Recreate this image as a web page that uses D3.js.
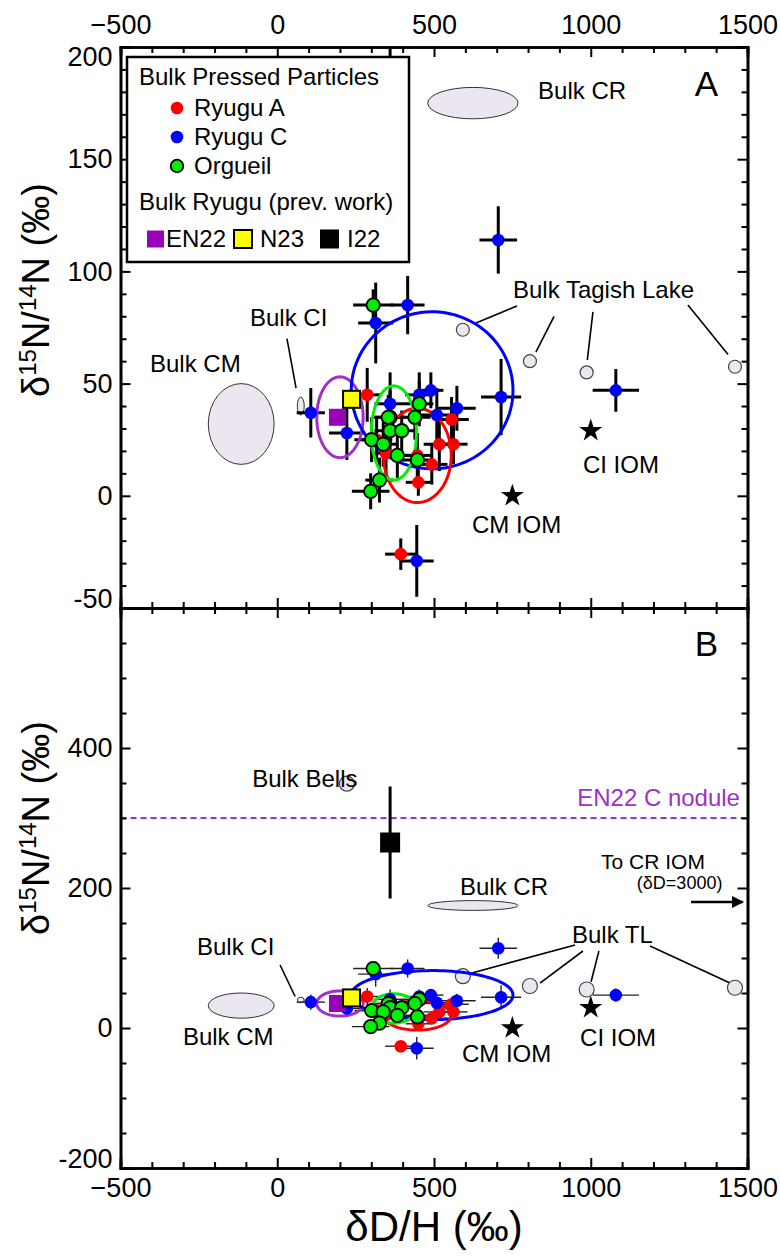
<!DOCTYPE html>
<html>
<head>
<meta charset="utf-8">
<script src="https://cdnjs.cloudflare.com/ajax/libs/d3/7.8.5/d3.min.js"></script>
<style>
  body { margin: 0; background: #fff; }
  svg { display: block; }
  text { font-family: "Liberation Sans", Arial, sans-serif; fill: #000; }
</style>
</head>
<body>
<svg id="chart" width="780" height="1256"></svg>
<script>
// ---------------- data (δD/H ‰, δ15N/14N ‰, ±δD, ±δ15N) ----------------
const ryuguA = [
  [287, 45, 45, 12], [556, 34, 55, 10], [517, 23, 50, 12], [562, 23, 45, 9],
  [493, 14, 50, 9], [447, 18, 45, 10], [450, 6, 40, 6], [317, 25, 50, 10],
  [347, 19, 50, 10], [394, -26, 50, 7]
];
const ryuguC = [
  [416, 85, 54, 13], [314, 77, 56, 18], [107, 37, 45, 11], [222, 28, 57, 12],
  [360, 41, 50, 14], [453, 45, 45, 10], [490, 47, 40, 8], [509, 36, 55, 12],
  [573, 39, 60, 10], [714, 44, 64, 17], [705, 114, 60, 15], [1080, 47, 74, 9.5],
  [445, -29, 54, 16]
];
const orgueil = [
  [306, 85, 64, 7], [360, 35, 50, 12], [453, 41, 45, 10], [439, 35, 50, 10],
  [354, 35, 45, 10], [360, 29, 50, 10], [397, 29, 45, 9], [301, 25, 55, 10],
  [338, 23, 45, 10], [383, 18, 45, 10], [447, 16, 50, 10], [326, 7, 45, 10],
  [298, 2, 60, 8]
];
// previous bulk Ryugu measurements
const prevWork = [
  { id: "EN22", d: 192, n: 35, ed: 0, en: 0 },
  { id: "N23", d: 237, n: 43, ed: 0, en: 0 },
  { id: "I22", d: 360, n: 265, ed: 25, en: 80 }
];
// data-range ellipses for each sample set: centre, semi-axes, tilt (normalised units)
const sampleEllipses = [
  { id: "EN22", d: 200, n: 35, rd: 74, rn: 18, tilt: 0 },
  { id: "C", d: 494, n: 47, rd: 258, rn: 35, tilt: 0.12 },
  { id: "A", d: 447, n: 18, rd: 108, rn: 21, tilt: -0.22 },
  { id: "Org", d: 372, n: 28, rd: 72, rn: 21, tilt: 0 }
];
// literature fields of bulk chondrites
const bulkFields = [
  { id: "CR", d: 624, n: 175, rd: 144, rn: 7 },
  { id: "CM", d: -115, n: 32, rd: 105, rn: 18 },
  { id: "CI", d: 75, n: 40, rd: 11, rn: 4 }
];
const tagishLake = [[592, 74], [806, 60], [987, 55], [1460, 57.5]];
const bells = [[222, 349]];
const iom = [{ id: "CI IOM", d: 1000, n: 29 }, { id: "CM IOM", d: 750, n: 0 }];
const en22Nodule = 300;

const xTicks = [-500, 0, 500, 1000, 1500];
const yTicksA = [-50, 0, 50, 100, 150, 200];
const yTicksB = [-200, 0, 200, 400];

// ---------------- colours ----------------
const colors = {
  A: "#ff0000", C: "#0000ff", Org: "#00ee00", EN22: "#9a00b8",
  N23: "#ffff00", I22: "#000000", field: "#ebe6f0", purple: "#a030c8"
};

// ---------------- layout ----------------
const L = 120.5, R = 747.5, TOP = 47, MID = 608, BOT = 1168;
const svg = d3.select("#chart");

const x = d3.scaleLinear().domain([-500, 1500]).range([L, R]);
const yA = d3.scaleLinear().domain([-50, 200]).range([MID, TOP]);
const yB = d3.scaleLinear().domain([-200, 600]).range([BOT, MID]);

const defs = svg.append("defs");
defs.append("clipPath").attr("id", "clipA").append("rect")
  .attr("x", L).attr("y", TOP).attr("width", R - L).attr("height", MID - TOP);
defs.append("clipPath").attr("id", "clipB").append("rect")
  .attr("x", L).attr("y", MID).attr("width", R - L).attr("height", BOT - MID);
defs.append("marker").attr("id", "arrow").attr("viewBox", "0 0 10 10")
  .attr("refX", 9).attr("refY", 5).attr("markerWidth", 5).attr("markerHeight", 5)
  .attr("orient", "auto").append("path").attr("d", "M0,0L10,5L0,10z").attr("fill", "#000");

// ellipse outline traced in data space so it follows each panel's scale
function ellipsePath(e, y) {
  const pts = d3.range(0, 2 * Math.PI + 0.001, Math.PI / 60).map(t => {
    const u = Math.cos(t), v = Math.sin(t);
    const c = Math.cos(e.tilt), s = Math.sin(e.tilt);
    return [x(e.d + e.rd * (u * c - v * s)), y(e.n + e.rn * (u * s + v * c))];
  });
  return d3.line()(pts) + "Z";
}

function drawPanel(y, clipId, opt) {
  const g = svg.append("g").attr("clip-path", `url(#${clipId})`);
  const barW = opt.thick ? 3 : 1.4;
  const barC = opt.thick ? "#000" : "#222";

  // literature fields
  g.selectAll(null).data(bulkFields).enter().append("ellipse")
    .attr("cx", d => x(d.d)).attr("cy", d => y(d.n))
    .attr("rx", d => x(d.d + d.rd) - x(d.d)).attr("ry", d => y(d.n) - y(d.n + d.rn))
    .attr("fill", colors.field).attr("stroke", "#333").attr("stroke-width", 1);

  // EN22 C nodule level
  g.append("line").attr("x1", L).attr("x2", R)
    .attr("y1", y(en22Nodule)).attr("y2", y(en22Nodule))
    .attr("stroke", colors.purple).attr("stroke-width", 2).attr("stroke-dasharray", "6,4");

  // annotation leader lines
  g.selectAll(null).data(opt.leaders).enter().append("line")
    .attr("x1", d => x(d[0])).attr("y1", d => y(d[1]))
    .attr("x2", d => x(d[2])).attr("y2", d => y(d[3]))
    .attr("stroke", "#000").attr("stroke-width", 1.6);

  // Tagish Lake and Bells bulk values
  g.selectAll(null).data(tagishLake.concat(bells)).enter().append("circle")
    .attr("cx", d => x(d[0])).attr("cy", d => y(d[1])).attr("r", opt.thick ? 6.5 : 7.5)
    .attr("fill", colors.field).attr("stroke", "#444").attr("stroke-width", 1.2);

  // error bars
  const allPts = ryuguA.concat(ryuguC, orgueil);
  const bars = g.append("g").attr("stroke", barC).attr("stroke-width", barW);
  allPts.forEach(p => {
    bars.append("line").attr("x1", x(p[0] - p[2])).attr("x2", x(p[0] + p[2]))
      .attr("y1", y(p[1])).attr("y2", y(p[1]));
    bars.append("line").attr("x1", x(p[0])).attr("x2", x(p[0]))
      .attr("y1", y(p[1] - p[3])).attr("y2", y(p[1] + p[3]));
  });
  prevWork.filter(p => p.en > 0).forEach(p => {
    bars.append("line").attr("x1", x(p.d)).attr("x2", x(p.d))
      .attr("y1", y(p.n - p.en)).attr("y2", y(p.n + p.en)).attr("stroke-width", 3).attr("stroke", "#000");
    bars.append("line").attr("x1", x(p.d - p.ed)).attr("x2", x(p.d + p.ed))
      .attr("y1", y(p.n)).attr("y2", y(p.n)).attr("stroke-width", 3).attr("stroke", "#000");
  });

  // sample ellipses
  g.selectAll(null).data(sampleEllipses).enter().append("path")
    .attr("d", d => ellipsePath(d, y))
    .attr("fill", "none").attr("stroke", d => d.id === "EN22" ? colors.purple : colors[d.id])
    .attr("stroke-width", 3);

  // bulk pressed particles
  const r = 6.3;
  g.selectAll(null).data(ryuguA).enter().append("circle")
    .attr("cx", d => x(d[0])).attr("cy", d => y(d[1])).attr("r", r).attr("fill", colors.A);
  g.selectAll(null).data(ryuguC).enter().append("circle")
    .attr("cx", d => x(d[0])).attr("cy", d => y(d[1])).attr("r", r).attr("fill", colors.C);
  g.selectAll(null).data(orgueil).enter().append("circle")
    .attr("cx", d => x(d[0])).attr("cy", d => y(d[1])).attr("r", r + 0.4)
    .attr("fill", colors.Org).attr("stroke", "#000").attr("stroke-width", 1.8);

  // previous bulk Ryugu
  const sq = { EN22: 17, N23: 17, I22: 20 };
  g.selectAll(null).data(prevWork).enter().append("rect")
    .attr("x", d => x(d.d) - sq[d.id] / 2).attr("y", d => y(d.n) - sq[d.id] / 2)
    .attr("width", d => sq[d.id]).attr("height", d => sq[d.id])
    .attr("fill", d => colors[d.id])
    .attr("stroke", d => d.id === "N23" ? "#000" : "none").attr("stroke-width", 2);

  // IOM stars
  g.selectAll(null).data(iom).enter().append("path")
    .attr("d", d3.symbol(d3.symbolStar, 165))
    .attr("transform", d => `translate(${x(d.d)},${y(d.n)})`).attr("fill", "#000");

  // annotation texts
  g.selectAll(null).data(opt.labels).enter().append("text")
    .attr("x", d => x(d.d)).attr("y", d => y(d.n))
    .attr("text-anchor", d => d.anchor || "start")
    .style("font-size", d => (d.size || 24) + "px")
    .style("fill", d => d.color || "#000")
    .text(d => d.t);

  if (opt.arrow) {
    const a = opt.arrow;
    g.append("line").attr("x1", x(a[0])).attr("x2", x(a[1])).attr("y1", y(a[2])).attr("y2", y(a[2]))
      .attr("stroke", "#000").attr("stroke-width", 2.5).attr("marker-end", "url(#arrow)");
  }
}

function frameAxes(y, top, bottom, majY, minY, showTop, showBottom, yTicks) {
  const minorX = d3.range(-500, 1501, 100);
  const ax = svg.append("g").attr("class", "axes");
  // top
  ax.append("g").attr("transform", `translate(0,${top})`)
    .call(d3.axisTop(x).tickValues(minorX.filter(v => v % 500 !== 0)).tickSize(-6).tickFormat(""));
  ax.append("g").attr("transform", `translate(0,${top})`)
    .call(d3.axisTop(x).tickValues(xTicks).tickSize(-10).tickPadding(13)
      .tickFormat(showTop ? d3.format("") : ""));
  // bottom
  ax.append("g").attr("transform", `translate(0,${bottom})`)
    .call(d3.axisBottom(x).tickValues(minorX.filter(v => v % 500 !== 0)).tickSize(-6).tickFormat(""));
  ax.append("g").attr("transform", `translate(0,${bottom})`)
    .call(d3.axisBottom(x).tickValues(xTicks).tickSize(-10).tickPadding(10)
      .tickFormat(showBottom ? d3.format("") : ""));
  const [lo, hi] = y.domain();
  const minorY = d3.range(lo, hi + 0.1, minY).filter(v => v % majY !== 0);
  const majorY = d3.range(lo, hi + 0.1, majY);
  // left
  ax.append("g").attr("transform", `translate(${L},0)`)
    .call(d3.axisLeft(y).tickValues(minorY).tickSize(-6).tickFormat(""));
  const left = ax.append("g").attr("class", "yleft").attr("transform", `translate(${L},0)`)
    .call(d3.axisLeft(y).tickValues(majorY).tickSize(-10).tickPadding(8)
      .tickFormat(v => yTicks.includes(v) ? v : ""));
  left.selectAll(".tick text").attr("dy", v => v === hi ? "0.7em" : v === lo ? "-0.02em" : "0.32em");
  // right
  ax.append("g").attr("transform", `translate(${R},0)`)
    .call(d3.axisRight(y).tickValues(minorY).tickSize(-6).tickFormat(""));
  ax.append("g").attr("transform", `translate(${R},0)`)
    .call(d3.axisRight(y).tickValues(majorY).tickSize(-10).tickFormat(""));
  ax.selectAll(".domain").attr("stroke-width", 2.6);
  ax.selectAll(".tick line").attr("stroke-width", 2);
  ax.selectAll(".tick text").style("font-size", "27px").style("font-family", "'Liberation Sans', Arial, sans-serif");
}

// ---------------- panel A ----------------
drawPanel(yA, "clipA", {
  thick: true,
  leaders: [
    [31, 70, 60, 48],
    [765, 84.6, 634, 77], [883, 80, 825, 64], [1007, 82, 989, 60.5], [1310, 85, 1438, 63]
  ],
  labels: [
    { t: "Bulk CR", d: 832, n: 177 },
    { t: "Bulk CM", d: -406, n: 55 },
    { t: "Bulk CI", d: -87, n: 75.7 },
    { t: "Bulk Tagish Lake", d: 752, n: 88 },
    { t: "CI IOM", d: 975, n: 10 },
    { t: "CM IOM", d: 621, n: -16.6 },
    { t: "A", d: 1332, n: 178, size: 35 }
  ]
});
frameAxes(yA, TOP, MID, 50, 10, true, false, yTicksA);

// ---------------- panel B ----------------
drawPanel(yB, "clipB", {
  thick: false,
  leaders: [
    [9, 90, 57, 45],
    [950, 118.6, 621, 78.6], [975, 110, 838, 64], [1026, 110, 1001, 66], [1189, 117, 1451, 63]
  ],
  labels: [
    { t: "Bulk Bells", d: -80, n: 344 },
    { t: "EN22 C nodule", d: 1476, n: 317, anchor: "end", color: colors.purple },
    { t: "To CR IOM", d: 1033, n: 227, size: 21 },
    { t: "(δD=3000)", d: 1420, n: 199, size: 18, anchor: "end" },
    { t: "Bulk CR", d: 583, n: 190 },
    { t: "Bulk CI", d: -256, n: 104 },
    { t: "Bulk CM", d: -301, n: -24 },
    { t: "Bulk TL", d: 940, n: 121 },
    { t: "CM IOM", d: 589, n: -49 },
    { t: "CI IOM", d: 966, n: -26 },
    { t: "B", d: 1332, n: 531, size: 35 }
  ],
  arrow: [1320, 1485, 180]
});
frameAxes(yB, MID, BOT, 200, 50, false, true, yTicksB);

// ---------------- legend ----------------
const lg = svg.append("g");
lg.append("rect").attr("x", 127).attr("y", 57).attr("width", 282).attr("height", 205)
  .attr("fill", "#fff").attr("stroke", "#000").attr("stroke-width", 2.5);
const lgText = (t, tx, ty) => lg.append("text").attr("x", tx).attr("y", ty).style("font-size", "24px").text(t);
lgText("Bulk Pressed Particles", 139, 85);
[["Ryugu A", colors.A, false], ["Ryugu C", colors.C, false], ["Orgueil", colors.Org, true]]
  .forEach((s, i) => {
    const cy = 108 + i * 29;
    lg.append("circle").attr("cx", 177).attr("cy", cy).attr("r", 6.3).attr("fill", s[1])
      .attr("stroke", s[2] ? "#000" : "none").attr("stroke-width", 1.8);
    lgText(s[0], 194, cy + 8);
  });
lgText("Bulk Ryugu (prev. work)", 139, 210);
[["EN22", 147, 17, false, 2], ["N23", 234, 18, true, 8], ["I22", 320, 19, false, 8]].forEach(s => {
  lg.append("rect").attr("x", s[1]).attr("y", 239 - s[2] / 2).attr("width", s[2]).attr("height", s[2])
    .attr("fill", colors[s[0]]).attr("stroke", s[3] ? "#000" : "none").attr("stroke-width", 2);
  lgText(s[0], s[1] + s[2] + s[4], 247);
});

// ---------------- axis titles ----------------
function yTitle(cy) {
  const t = svg.append("text").attr("transform", `translate(49,${cy}) rotate(-90)`)
    .attr("text-anchor", "middle").style("font-size", "38px");
  t.append("tspan").text("δ");
  t.append("tspan").attr("dy", -13).style("font-size", "24px").text("15");
  t.append("tspan").attr("dy", 13).text("N/");
  t.append("tspan").attr("dy", -13).style("font-size", "24px").text("14");
  t.append("tspan").attr("dy", 13).text("N (‰)");
}
yTitle(290);
yTitle(828);
svg.append("text").attr("x", (L + R) / 2).attr("y", 1241).attr("text-anchor", "middle")
  .style("font-size", "42px").text("δD/H (‰)");
</script>
</body>
</html>
